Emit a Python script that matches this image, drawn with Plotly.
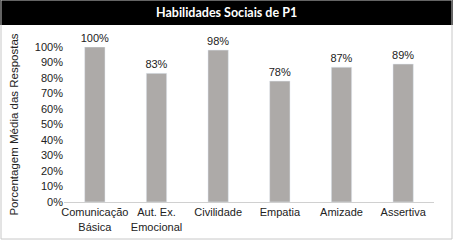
import plotly.graph_objects as go

categories = ["Comunicação<br>Básica", "Aut. Ex.<br>Emocional", "Civilidade", "Empatia", "Amizade", "Assertiva"]
values = [100, 83, 98, 78, 87, 89]
tick_vals = [0, 10, 20, 30, 40, 50, 60, 70, 80, 90, 100]
tick_text = [f"{v}%" for v in tick_vals]
title = "Habilidades Sociais de P1"
y_title = "Porcentagem Média das Respostas"

L, R, T, B = 64, 19, 47, 38
PW, PH = 453 - L - R, 240 - T - B

fig = go.Figure(go.Bar(
    x=categories, y=values,
    text=[f"{v}%" for v in values], textposition="outside",
    constraintext="none",
    textfont=dict(family="Liberation Sans, Arial", size=11, color="#222"),
    marker=dict(color="#ADAAA8"),
    cliponaxis=False,
    hoverinfo="skip",
))
fig.update_layout(
    width=453, height=240,
    margin=dict(l=L, r=R, t=T, b=B),
    paper_bgcolor="white", plot_bgcolor="white",
    bargap=0.67,
    showlegend=False,
    font=dict(family="Liberation Sans, Arial", size=11, color="#222"),
    xaxis=dict(showline=True, linecolor="#d0d0d0", linewidth=1, ticks="",
               tickfont=dict(size=11), showgrid=False, automargin=False),
    yaxis=dict(range=[0, 100], tickvals=tick_vals, ticktext=tick_text, showgrid=False,
               zeroline=False, showline=False, tickfont=dict(size=11), automargin=False,
               title=dict(text=y_title, font=dict(size=11.5), standoff=13)),
    shapes=[
        dict(type="rect", xref="paper", yref="paper", x0=-L/PW, x1=1 + R/PW,
             y0=1 + (T - 25)/PH, y1=1 + T/PH, fillcolor="black", line=dict(width=0), layer="above"),
        dict(type="rect", xref="paper", yref="paper", x0=-(L - 1)/PW, x1=1 + (R - 1)/PW,
             y0=-(B - 1)/PH, y1=1 + T/PH, fillcolor="rgba(0,0,0,0)", line=dict(width=1, color="#c8c8c8")),
    ],
    annotations=[dict(text=f"<b>{title}</b>", xref="paper", yref="paper",
                      x=(453/2 - L)/PW, y=1 + (T - 12.5)/PH,
                      showarrow=False, font=dict(family="Lato", size=12.5, color="white"),
                      xanchor="center", yanchor="middle")],
)
fig.write_html("out.html", config={"displayModeBar": False, "staticPlot": True},
               post_script="document.body.style.margin='0';document.body.style.overflow='hidden';")
